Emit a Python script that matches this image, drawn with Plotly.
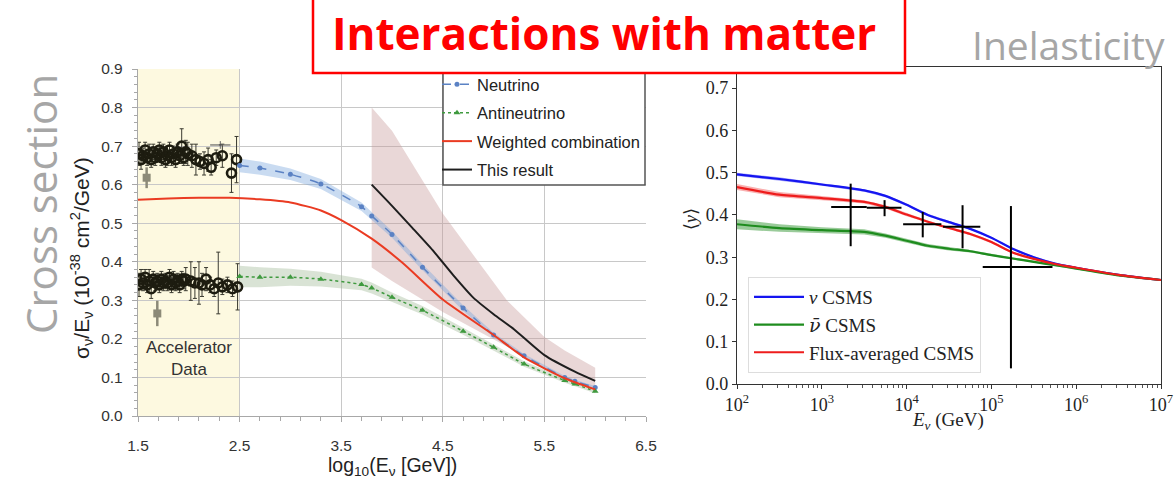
import plotly.graph_objects as go

W, H = 1174, 485

# ---------------- Left panel: cross section / energy ----------------
nu_x = [2.5, 2.7, 3.0, 3.3, 3.7, 3.8, 4.0, 4.3, 4.7, 5.0, 5.3, 5.7, 5.8, 6.0]
nu_y = [0.650, 0.643, 0.627, 0.602, 0.543, 0.519, 0.471, 0.386, 0.280, 0.210, 0.156, 0.100, 0.090, 0.074]
nu_err = [0.018, 0.017, 0.015, 0.013, 0.011, 0.010, 0.009, 0.008, 0.007, 0.006, 0.005, 0.004, 0.004, 0.004]

nubar_x = [2.5, 2.7, 3.0, 3.3, 3.7, 3.8, 4.0, 4.3, 4.7, 5.0, 5.3, 5.7, 5.8, 6.0]
nubar_y = [0.362, 0.360, 0.360, 0.355, 0.341, 0.332, 0.308, 0.274, 0.220, 0.178, 0.135, 0.092, 0.083, 0.064]
nubar_err = [0.028, 0.026, 0.022, 0.019, 0.015, 0.014, 0.012, 0.011, 0.009, 0.008, 0.007, 0.006, 0.005, 0.005]

comb_x = [1.5, 1.8, 2.1, 2.4, 2.7, 3.0, 3.3, 3.5, 3.8, 4.1, 4.5, 5.0, 5.3, 5.7, 6.0]
comb_y = [0.561, 0.564, 0.566, 0.566, 0.562, 0.554, 0.533, 0.508, 0.460, 0.398, 0.302, 0.210, 0.152, 0.098, 0.069]

result_x = [3.8, 4.0, 4.2, 4.4, 4.6, 4.8, 5.0, 5.2, 5.5, 5.8, 6.0]
result_y = [0.600, 0.545, 0.488, 0.430, 0.366, 0.307, 0.264, 0.225, 0.158, 0.115, 0.091]
result_band_x = [3.8, 4.0, 4.5, 5.13, 5.5, 5.7, 6.0]
result_band_hi = [0.800, 0.740, 0.525, 0.300, 0.205, 0.170, 0.125]
result_band_lo = [0.385, 0.350, 0.270, 0.180, 0.122, 0.098, 0.072]

# accelerator measurements (log10 E, sigma/E, error)
acc_nu_x = [1.51, 1.53, 1.55, 1.57, 1.59, 1.61, 1.63, 1.65, 1.67, 1.69, 1.71, 1.73, 1.75, 1.77,
            1.79, 1.81, 1.83, 1.85, 1.87, 1.89, 1.91, 1.93, 1.95, 1.97, 1.99, 2.03, 2.07,
            2.11, 2.15, 2.19, 2.22, 2.27, 2.33, 2.42, 2.47]
acc_nu_y = [0.680, 0.665, 0.675, 0.690, 0.670, 0.680, 0.665, 0.685, 0.670, 0.680, 0.690, 0.670, 0.685,
            0.665, 0.675, 0.690, 0.670, 0.680, 0.665, 0.685, 0.675, 0.700, 0.670, 0.685, 0.680,
            0.675, 0.665, 0.660, 0.655, 0.665, 0.645, 0.670, 0.675, 0.630, 0.665]
acc_nu_err = [0.030, 0.025, 0.020, 0.020, 0.020, 0.025, 0.020, 0.020, 0.020, 0.015, 0.020, 0.020, 0.020,
              0.020, 0.025, 0.020, 0.020, 0.020, 0.020, 0.020, 0.020, 0.045, 0.020, 0.030, 0.030,
              0.030, 0.040, 0.020, 0.030, 0.030, 0.020, 0.020, 0.030, 0.050, 0.060]
acc_nu_wide_x = [2.31]
acc_nu_wide_y = [0.703]
acc_nu_wide_xerr = [0.10]

acc_nubar_x = [1.51, 1.53, 1.55, 1.57, 1.59, 1.61, 1.63, 1.65, 1.67, 1.69, 1.71, 1.73, 1.75, 1.77,
               1.79, 1.81, 1.83, 1.85, 1.87, 1.89, 1.91, 1.93, 1.95, 1.97, 2.02, 2.06, 2.10,
               2.13, 2.17, 2.21, 2.25, 2.29, 2.33, 2.38, 2.43, 2.48]
acc_nubar_y = [0.340, 0.355, 0.345, 0.360, 0.340, 0.350, 0.330, 0.355, 0.345, 0.350, 0.340, 0.355,
               0.345, 0.350, 0.345, 0.360, 0.340, 0.355, 0.345, 0.350, 0.340, 0.355, 0.350, 0.355,
               0.350, 0.345, 0.345, 0.340, 0.355, 0.340, 0.330, 0.345, 0.335, 0.340, 0.330, 0.335]
acc_nubar_err = [0.030, 0.025, 0.020, 0.020, 0.020, 0.030, 0.025, 0.020, 0.020, 0.020, 0.020, 0.020,
                 0.020, 0.020, 0.020, 0.020, 0.020, 0.020, 0.020, 0.020, 0.020, 0.020, 0.020, 0.030,
                 0.050, 0.040, 0.055, 0.030, 0.030, 0.020, 0.020, 0.080, 0.020, 0.020, 0.020, 0.060]

acc_grey_x = [1.585, 1.69]
acc_grey_y = [0.618, 0.266]
acc_grey_err = [0.027, 0.033]

# ---------------- Right panel: mean inelasticity ----------------
csms_E = [1e2, 10**2.5, 1e3, 10**3.5, 10**3.75, 1e4, 10**4.25, 10**4.5, 10**4.75, 1e5,
          10**5.25, 10**5.5, 10**5.75, 1e6, 10**6.5, 1e7]
csms_nu = [0.496, 0.485, 0.472, 0.458, 0.445, 0.424, 0.400, 0.383, 0.367, 0.346,
           0.320, 0.300, 0.285, 0.275, 0.258, 0.246]
csms_nubar = [0.378, 0.369, 0.364, 0.360, 0.351, 0.339, 0.327, 0.320, 0.314, 0.305,
              0.297, 0.289, 0.281, 0.273, 0.257, 0.246]
csms_flux = [0.466, 0.448, 0.440, 0.431, 0.419, 0.401, 0.384, 0.369, 0.355, 0.336,
             0.311, 0.296, 0.284, 0.275, 0.258, 0.246]
csms_nu_hw = [0.004, 0.004, 0.003, 0.003, 0.003, 0.003, 0.003, 0.003, 0.002, 0.002,
              0.002, 0.002, 0.002, 0.002, 0.002, 0.002]
csms_nubar_hw = [0.012, 0.009, 0.007, 0.006, 0.005, 0.005, 0.004, 0.004, 0.003, 0.003,
                 0.003, 0.002, 0.002, 0.002, 0.002, 0.002]
csms_flux_hw = [0.007, 0.006, 0.005, 0.004, 0.004, 0.004, 0.003, 0.003, 0.003, 0.003,
                0.002, 0.002, 0.002, 0.002, 0.002, 0.002]

meas_E = [2190, 5500, 15500, 45700, 170000]
meas_E_lo = [1290, 3390, 9100, 26900, 79000]
meas_E_hi = [3390, 8700, 25700, 74000, 525000]
meas_y = [0.419, 0.417, 0.378, 0.372, 0.277]
meas_y_lo = [0.326, 0.397, 0.347, 0.321, 0.037]
meas_y_hi = [0.474, 0.435, 0.407, 0.423, 0.421]

decades = [2, 3, 4, 5, 6]
minor_tickvals = [m * 10 ** d for d in decades for m in range(2, 10)]


def px_x(p):
    return p / W


def px_y(p):
    return (H - p) / H


fig = go.Figure()


def band(x, lo, hi, color, xa="x", ya="y"):
    fig.add_trace(go.Scatter(
        x=list(x) + list(x)[::-1], y=list(hi) + list(lo)[::-1], mode="lines",
        fill="toself", fillcolor=color, line=dict(width=0),
        hoverinfo="skip", showlegend=False, xaxis=xa, yaxis=ya))


# bands (left)
band(result_band_x, result_band_lo, result_band_hi, "rgba(196,150,150,0.38)")
band(nu_x, [v - e for v, e in zip(nu_y, nu_err)], [v + e for v, e in zip(nu_y, nu_err)],
     "rgba(120,165,220,0.40)")
band(nubar_x, [v - e for v, e in zip(nubar_y, nubar_err)], [v + e for v, e in zip(nubar_y, nubar_err)],
     "rgba(160,185,150,0.40)")

# accelerator data
acc_marker = dict(symbol="circle-open", size=9, color="#1d1c10", line=dict(width=2.6))
fig.add_trace(go.Scatter(
    x=acc_nu_x, y=acc_nu_y, mode="markers", marker=acc_marker,
    error_y=dict(type="data", array=acc_nu_err, color="#3a3a30", thickness=1, width=2),
    showlegend=False, hoverinfo="skip"))
fig.add_trace(go.Scatter(
    x=acc_nu_wide_x, y=acc_nu_wide_y, mode="markers",
    marker=dict(symbol="line-ew", size=2, color="#555", line=dict(width=1)),
    error_x=dict(type="data", array=acc_nu_wide_xerr, color="#666", thickness=1.2, width=0),
    error_y=dict(type="data", array=[0.01], color="#666", thickness=1, width=0),
    showlegend=False, hoverinfo="skip"))
fig.add_trace(go.Scatter(
    x=acc_nubar_x, y=acc_nubar_y, mode="markers", marker=acc_marker,
    error_y=dict(type="data", array=acc_nubar_err, color="#3a3a30", thickness=1, width=2),
    showlegend=False, hoverinfo="skip"))
fig.add_trace(go.Scatter(
    x=acc_grey_x, y=acc_grey_y, mode="markers",
    marker=dict(symbol="square", size=8, color="#8c8a78"),
    error_y=dict(type="data", array=acc_grey_err, color="#8c8a78", thickness=2.5, width=0),
    showlegend=False, hoverinfo="skip"))

# curves (left)
fig.add_trace(go.Scatter(
    x=nu_x, y=nu_y, mode="lines+markers", name="Neutrino", legend="legend",
    legendgroup="a",
    line=dict(color="#5b82c4", width=1.5, dash="dash", shape="spline", smoothing=0.6),
    marker=dict(symbol="circle", size=5, color="#5b82c4")))
fig.add_trace(go.Scatter(
    x=nubar_x, y=nubar_y, mode="lines+markers", name="Antineutrino", legend="legend",
    legendgroup="b",
    line=dict(color="#3f9a3f", width=1.5, dash="dot", shape="spline", smoothing=0.6),
    marker=dict(symbol="triangle-up", size=6, color="#3f9a3f")))
fig.add_trace(go.Scatter(
    x=comb_x, y=comb_y, mode="lines", name="Weighted combination", legend="legend",
    legendgroup="c",
    line=dict(color="#ea3b22", width=2, shape="spline", smoothing=0.6)))
fig.add_trace(go.Scatter(
    x=result_x, y=result_y, mode="lines", name="This result", legend="legend",
    legendgroup="d",
    line=dict(color="#1e1e1e", width=2, shape="spline", smoothing=0.6)))

# right panel bands and curves
right_series = [
    (csms_nu, csms_nu_hw, "#1515f0", "rgba(21,21,240,0.35)", "<i>ν</i> CSMS"),
    (csms_nubar, csms_nubar_hw, "#1e8c1e", "rgba(30,140,30,0.45)",
     "<span style='font-family:DejaVu Serif'><i>ν̄</i></span> CSMS"),
    (csms_flux, csms_flux_hw, "#ee1c1c", "rgba(238,28,28,0.35)", "Flux-averaged CSMS"),
]
for vals, hw, col, bcol, _ in right_series:
    band(csms_E, [v - h for v, h in zip(vals, hw)], [v + h for v, h in zip(vals, hw)],
         bcol, xa="x2", ya="y2")
for vals, hw, col, bcol, label in right_series:
    fig.add_trace(go.Scatter(
        x=csms_E, y=vals, mode="lines", name=label, legend="legend2",
        line=dict(color=col, width=2.2, shape="spline", smoothing=0.7),
        xaxis="x2", yaxis="y2"))

fig.add_trace(go.Scatter(
    x=meas_E, y=meas_y, mode="markers", showlegend=False, hoverinfo="skip",
    marker=dict(size=1, color="black"),
    error_x=dict(type="data", symmetric=False,
                 array=[h - e for h, e in zip(meas_E_hi, meas_E)],
                 arrayminus=[e - l for e, l in zip(meas_E, meas_E_lo)],
                 color="black", thickness=2, width=0),
    error_y=dict(type="data", symmetric=False,
                 array=[h - v for h, v in zip(meas_y_hi, meas_y)],
                 arrayminus=[v - l for v, l in zip(meas_y, meas_y_lo)],
                 color="black", thickness=2, width=0),
    xaxis="x2", yaxis="y2"))

grid_col = "#c8c8c8"
axis_col = "#a8a8a8"
sans = "Liberation Sans, Arial"
left_tick_font = dict(family=sans, size=15.5, color="#333333")
serif = "Liberation Serif, DejaVu Serif, serif"

fig.update_layout(
    width=W, height=H,
    margin=dict(l=0, r=0, t=0, b=0, pad=0, autoexpand=False),
    paper_bgcolor="white", plot_bgcolor="white",
    xaxis=dict(
        domain=[px_x(138), px_x(646)], range=[1.5, 6.5], anchor="y", automargin=False,
        tickmode="array", tickvals=[1.5, 2.5, 3.5, 4.5, 5.5, 6.5],
        ticktext=["1.5", "2.5", "3.5", "4.5", "5.5", "6.5"],
        showgrid=True, gridcolor=grid_col, gridwidth=1.3,
        showline=True, linecolor=axis_col, linewidth=1.3, zeroline=False,
        ticks="outside", ticklen=5, tickcolor=axis_col, ticklabelstandoff=10,
        minor=dict(tick0=1.5, dtick=0.2, ticks="outside", ticklen=4, tickcolor=axis_col, showgrid=False),
        tickfont=left_tick_font),
    yaxis=dict(
        domain=[px_y(416), px_y(69)], range=[0, 0.9], anchor="x", automargin=False,
        tickmode="linear", tick0=0, dtick=0.1, tickformat=".1f",
        showgrid=True, gridcolor=grid_col, gridwidth=1.3,
        showline=True, linecolor=axis_col, linewidth=1.3, zeroline=False,
        ticks="outside", ticklen=5, tickcolor=axis_col, ticklabelstandoff=6,
        minor=dict(dtick=0.02, ticks="outside", ticklen=3, tickcolor=axis_col, showgrid=False),
        tickfont=left_tick_font),
    xaxis2=dict(
        domain=[px_x(737), px_x(1161)], type="log", range=[2, 7], anchor="y2", automargin=False,
        tickmode="array", tickvals=[1e2, 1e3, 1e4, 1e5, 1e6, 1e7],
        ticktext=["10<sup>2</sup>", "10<sup>3</sup>", "10<sup>4</sup>",
                  "10<sup>5</sup>", "10<sup>6</sup>", "10<sup>7</sup>"],
        showgrid=False, showline=True, linecolor="#333", linewidth=1.3, mirror=True,
        zeroline=False, ticks="outside", ticklen=4, tickcolor="#333",
        minor=dict(tickmode="array", tickvals=minor_tickvals, ticks="outside", ticklen=2.5,
                   tickcolor="#555", showgrid=False),
        tickfont=dict(family=serif, size=18, color="#222")),
    yaxis2=dict(
        domain=[px_y(384), px_y(67)], range=[0, 0.75], anchor="x2", automargin=False,
        tickmode="linear", tick0=0, dtick=0.1, tickformat=".1f",
        showgrid=False, showline=True, linecolor="#333", linewidth=1.3, mirror=True,
        zeroline=False, ticks="outside", ticklen=4, tickcolor="#333",
        tickfont=dict(family=serif, size=18, color="#222")),
    legend=dict(
        x=px_x(437), y=px_y(67), xanchor="left", yanchor="top",
        bgcolor="rgba(0,0,0,0)", borderwidth=0,
        font=dict(family=sans, size=16.5, color="#222"),
        tracegroupgap=4, itemwidth=30),
    legend2=dict(
        x=px_x(748), y=px_y(373), xanchor="left", yanchor="bottom",
        bgcolor="white", bordercolor="#dddddd", borderwidth=1,
        font=dict(family=serif, size=19, color="#222"),
        itemwidth=50),
    shapes=[
        dict(type="rect", xref="x", yref="y", x0=1.5, x1=2.5, y0=0, y1=0.9,
             fillcolor="#fdf9e0", line=dict(width=0), layer="below"),
        # left legend frame; its top edge sits under the title box
        dict(type="rect", xref="paper", yref="paper",
             x0=px_x(443), x1=px_x(645), y0=px_y(185), y1=px_y(60),
             fillcolor="white", line=dict(color="#555", width=1.5), layer="above"),
        dict(type="rect", xref="paper", yref="paper",
             x0=px_x(313), x1=px_x(905), y0=px_y(73), y1=px_y(-5),
             fillcolor="white", line=dict(color="#ff0000", width=2.5), layer="above"),
    ],
    annotations=[
        dict(text="Accelerator<br>Data", x=2.0, y=0.149, xref="x", yref="y",
             xanchor="center", yanchor="middle",
             showarrow=False, font=dict(family=sans, size=17, color="#333")),
        dict(text="σ<sub>ν</sub>/E<sub>ν</sub> (10<sup>-38</sup> cm<sup>2</sup>/GeV)",
             x=px_x(81), y=px_y(258), xref="paper", yref="paper", textangle=-90,
             xanchor="center", yanchor="middle",
             showarrow=False, font=dict(family=sans, size=21, color="#222")),
        dict(text="log<sub>10</sub>(E<sub>ν</sub> [GeV])", x=px_x(392), y=px_y(466),
             xref="paper", yref="paper", showarrow=False, xanchor="center", yanchor="middle",
             font=dict(family=sans, size=19.5, color="#222")),
        dict(text="⟨<i>y</i>⟩", x=px_x(691), y=px_y(219), xref="paper", yref="paper",
             textangle=-90, showarrow=False, xanchor="center", yanchor="middle",
             font=dict(family=serif, size=18, color="#222")),
        dict(text="<i>E<sub>ν</sub></i> (GeV)", x=px_x(948), y=px_y(421),
             xref="paper", yref="paper", showarrow=False, xanchor="center", yanchor="middle",
             font=dict(family=serif, size=19, color="#222")),
        dict(text="Cross section", x=px_x(41), y=px_y(204), xref="paper", yref="paper",
             textangle=-90, showarrow=False, xanchor="center", yanchor="middle",
             font=dict(family="Open Sans", size=42, color="#a6a6a6")),
        dict(text="Inelasticity", x=px_x(1167), y=px_y(44), xref="paper", yref="paper",
             xanchor="right", yanchor="middle", showarrow=False,
             font=dict(family="Open Sans", size=39, color="#a6a6a6")),
        dict(text="<b>Interactions with matter</b>", x=px_x(604), y=px_y(33),
             xref="paper", yref="paper", showarrow=False, xanchor="center", yanchor="middle",
             font=dict(family="Open Sans", size=44, color="#ff0000")),
    ],
)

fig.write_html("out.html")
